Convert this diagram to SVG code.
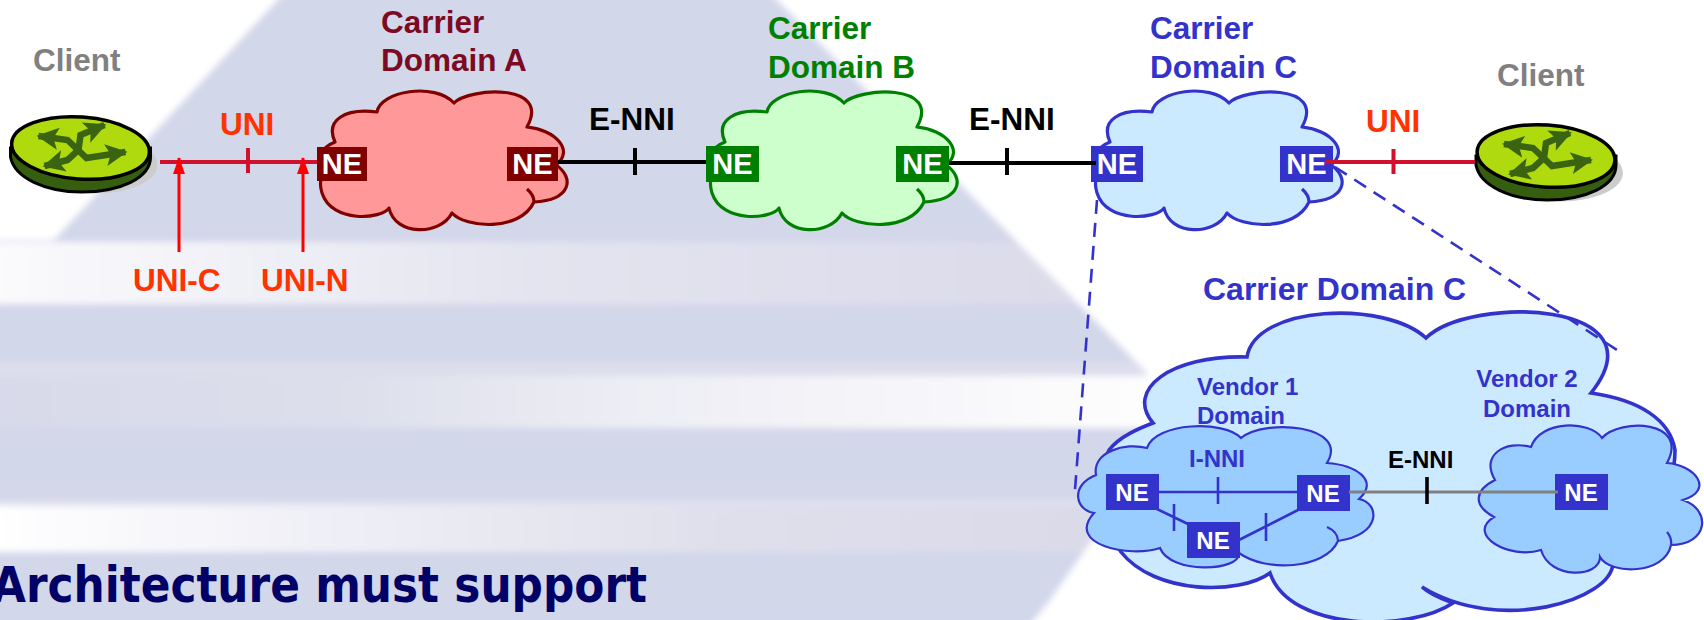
<svg xmlns="http://www.w3.org/2000/svg" width="1704" height="620" viewBox="0 0 1704 620">
<style>
text{font-family:"Liberation Sans",Arial,sans-serif;font-weight:bold}
.t{font-size:31.5px}.s{font-size:24px}
.ne{font-size:29px;fill:#fff;text-anchor:middle}.nes{font-size:24px;fill:#fff;text-anchor:middle}
.red{fill:#ff3300}.blue{fill:#3333cc}.grey{fill:#808080}.blk{fill:#000}.mar{fill:#7b0a22}.grn{fill:#008000}
.cloud{stroke-width:3.2;stroke-linejoin:round}
.sc{fill:#99ccff;stroke:#3333cc;stroke-width:2.2}
.rd{stroke:#d0102c;stroke-width:4;fill:none}.bk{stroke:#000;stroke-width:4;fill:none}
.bl{stroke:#3333cc;stroke-width:2.6;fill:none}.dash{stroke:#3333cc;stroke-width:2.6;stroke-dasharray:14 9;fill:none}
.arw{stroke:#ff0000;stroke-width:3;fill:none;marker-end:url(#up)}
.rarrow{fill:none;stroke:#3a6411;stroke-width:6.5;marker-start:url(#gh);marker-end:url(#gh)}
</style>
<defs>
<marker id="up" markerUnits="userSpaceOnUse" markerWidth="17" markerHeight="12" refX="16" refY="6" orient="auto" viewBox="0 0 17 12"><path d="M0,0L17,6L0,12Z" fill="#ff0000"/></marker>
<marker id="gh" markerUnits="userSpaceOnUse" markerWidth="22" markerHeight="24" refX="20" refY="12" orient="auto-start-reverse" viewBox="0 0 22 24"><path d="M0,1L22,12L0,23L5,12Z" fill="#3a6411"/></marker>
<linearGradient id="b1" x1="0" x2="1" y1="0" y2="0"><stop offset="0" stop-color="#fbfbfd"/><stop offset=".45" stop-color="#e4e4f0"/><stop offset="1" stop-color="#d9d9e8"/></linearGradient>
<linearGradient id="b2" x1="0" x2="1" y1="0" y2="0"><stop offset="0" stop-color="#d8d9ea"/><stop offset=".3" stop-color="#dddfeb"/><stop offset=".55" stop-color="#eeeef5"/><stop offset="1" stop-color="#ffffff"/></linearGradient>
<linearGradient id="b3" x1="0" x2="1" y1="0" y2="0"><stop offset="0" stop-color="#ffffff"/><stop offset=".3" stop-color="#eeeef6"/><stop offset=".6" stop-color="#e0e0ec"/><stop offset="1" stop-color="#d8d8e8"/></linearGradient>
<clipPath id="logo"><polygon points="287,-10 767,-10 1147,373 1150,413 1120,500 1050,600 1030,625 -10,625 -10,240 54,240"/></clipPath>
<filter id="soft" x="-5%" y="-5%" width="110%" height="110%"><feGaussianBlur stdDeviation="3"/></filter>
<path id="cl" d="M377,112C380,91 435,82 454,103C468,88 552,82 527,127C555,130 575,150 556,165C575,178 571,200 534,202C520,232 465,228 452,213C440,236 395,236 389,208C382,219 332,224 322,193C318,180 322,175 330,170C315,160 320,148 335,142C325,120 345,108 377,112ZM527,189Q534,195 534,202"/>
<g id="router">
<ellipse cx="5" cy="13" rx="72" ry="32" fill="#cccccc" transform="rotate(4 5 13)"/>
<path d="M-70,0V9C-66,30 -35,44 1,44C40,44 70,30 70,9V0Z" fill="#355e0e" stroke="#000" stroke-width="3"/>
<ellipse cx="0" cy="0" rx="69" ry="31" fill="#aeda0e" stroke="#000" stroke-width="3.5" transform="rotate(4)"/>
<path class="rarrow" d="M-42,-12L-13,-8L6,10L45,4"/>
<path class="rarrow" d="M24,-23L0,-13L-2,2L-13,12L-36,18"/>
</g>
</defs>

<g id="background">
<rect width="1704" height="620" fill="#fff"/>
<g filter="url(#soft)"><g clip-path="url(#logo)">
<rect x="-10" y="-10" width="1200" height="252" fill="#d3d7ea"/>
<rect x="-10" y="242" width="1200" height="62" fill="url(#b1)"/>
<rect x="-10" y="304" width="1200" height="58" fill="#d3d7ea"/>
<rect x="-10" y="362" width="1200" height="14" fill="#dcdeec"/>
<rect x="-10" y="376" width="1200" height="52" fill="url(#b2)"/>
<rect x="-10" y="428" width="1200" height="72" fill="#d3d7ea"/>
<rect x="-10" y="500" width="1200" height="6" fill="#e0e1ee"/>
<rect x="-10" y="506" width="1200" height="46" fill="url(#b3)"/>
<rect x="-10" y="552" width="1200" height="80" fill="#d3d7ea"/>
</g></g>
</g>

<text id="slide-text" x="-8" y="602" font-size="50" textLength="655" lengthAdjust="spacingAndGlyphs" style="font-family:'DejaVu Sans',sans-serif;font-weight:bold" fill="#000066">Architecture must support</text>

<g id="client-left"><use href="#router" x="80.5" y="148"/><text class="t grey" x="33" y="71">Client</text></g>
<g id="client-right"><use href="#router" x="1546" y="156"/><text class="t grey" x="1497" y="86">Client</text></g>

<g id="domain-a"><use href="#cl" class="cloud" fill="#ff9999" stroke="#800000"/>
<text class="t mar" x="381" y="33">Carrier</text><text class="t mar" x="381" y="71">Domain A</text></g>
<g id="domain-b"><use href="#cl" x="390" class="cloud" fill="#ccffcc" stroke="#008000"/>
<text class="t grn" x="768" y="39">Carrier</text><text class="t grn" x="768" y="78">Domain B</text></g>
<g id="domain-c"><use href="#cl" x="775" class="cloud" fill="#cceaff" stroke="#3333cc"/>
<text class="t blue" x="1150" y="39">Carrier</text><text class="t blue" x="1150" y="78">Domain C</text></g>

<g id="domain-c-detail">
<path d="M1247,357C1255,305 1385,300 1426,338C1470,295 1665,300 1591,393C1640,400 1670,420 1675,450C1675,500 1640,540 1613,563C1612,600 1500,635 1422,587C1432,596 1445,600 1453,603C1410,632 1290,632 1270,573C1240,595 1155,595 1121,552C1100,520 1095,480 1109,450C1120,436 1140,428 1153,423C1125,390 1170,355 1247,357Z" fill="#cceaff" stroke="#3333cc" stroke-width="3.6"/>
<text class="t blue" style="font-size:32px" x="1203" y="300">Carrier Domain C</text>
<text class="s blue" x="1197" y="395">Vendor 1</text><text class="s blue" x="1197" y="424">Domain</text>
<text class="s blue" x="1527" y="387" text-anchor="middle">Vendor 2</text><text class="s blue" x="1527" y="417" text-anchor="middle">Domain</text>
</g>
<g id="vendor-1"><path class="sc" d="M1147,448C1155,422 1225,420 1241,438C1265,418 1350,425 1327,463C1355,465 1380,480 1359,499C1380,503 1382,535 1338,541C1325,570 1265,572 1239,553C1240,572 1170,574 1160,548C1130,558 1065,545 1094,513C1075,510 1070,485 1096,475C1092,452 1125,442 1147,448ZM1327,527Q1338,532 1338,541"/>
<text class="s blue" x="1189" y="467">I-NNI</text></g>
<g id="vendor-2"><path class="sc" d="M1531,447C1540,420 1590,420 1602,438C1620,418 1690,420 1667,463C1695,465 1715,490 1683,500C1712,510 1708,545 1671,545C1665,575 1610,575 1600,557C1600,578 1550,580 1541,550C1510,560 1465,535 1494,517C1472,505 1475,490 1495,480C1480,455 1505,440 1531,447ZM1667,532Q1672,538 1671,545"/></g>

<g id="ne-a1"><rect x="317" y="147" width="50" height="34" fill="#800000"/><text class="ne" x="342" y="174">NE</text></g>
<g id="ne-a2"><rect x="507" y="147" width="51" height="34" fill="#800000"/><text class="ne" x="532.5" y="174">NE</text></g>
<g id="ne-b1"><rect x="706" y="146" width="53" height="36" fill="#008000"/><text class="ne" x="732.5" y="174">NE</text></g>
<g id="ne-b2"><rect x="896" y="146" width="53" height="36" fill="#008000"/><text class="ne" x="922.5" y="174">NE</text></g>
<g id="ne-c1"><rect x="1091" y="146" width="52" height="36" fill="#3333cc"/><text class="ne" x="1117" y="174">NE</text></g>
<g id="ne-c2"><rect x="1280" y="146" width="53" height="36" fill="#3333cc"/><text class="ne" x="1306.5" y="174">NE</text></g>
<g id="ne-v1"><rect x="1106" y="474" width="53" height="36" fill="#3333cc"/><text class="nes" x="1132" y="501">NE</text></g>
<g id="ne-v2"><rect x="1297" y="475" width="53" height="36" fill="#3333cc"/><text class="nes" x="1323" y="502">NE</text></g>
<g id="ne-v3"><rect x="1187" y="522" width="53" height="36" fill="#3333cc"/><text class="nes" x="1213" y="549">NE</text></g>
<g id="ne-v4"><rect x="1555" y="474" width="53" height="36" fill="#3333cc"/><text class="nes" x="1581" y="501">NE</text></g>

<g id="connectors">
<path class="rd" d="M160,162H317M248,148V173"/>
<path class="arw" d="M179,252V158"/><path class="arw" d="M303,252V158"/>
<path class="bk" d="M558,162H706M635,148V175M949,163H1096M1007,148V175"/>
<path class="rd" d="M1325,162H1475M1393.5,149V174"/>
<path class="dash" d="M1097,200L1075,490"/>
<path class="dash" d="M1335,167L1617,350"/>
<path class="bl" d="M1159,492H1297M1218,477V504M1157,509L1188,524M1174,504V531M1239,540L1298,510M1266,513V541"/>
<path d="M1349,492H1558" stroke="#808080" stroke-width="3" fill="none"/>
<path d="M1427,477V504" stroke="#000" stroke-width="3.6" fill="none"/>
</g>

<g id="labels">
<text class="t red" x="220" y="135">UNI</text>
<text class="t red" x="133" y="291">UNI-C</text>
<text class="t red" x="261" y="291">UNI-N</text>
<text class="t red" x="1366" y="132">UNI</text>
<text class="t blk" x="589" y="130">E-NNI</text>
<text class="t blk" x="969" y="130">E-NNI</text>
<text class="s blk" x="1388" y="468">E-NNI</text>
</g>
</svg>
